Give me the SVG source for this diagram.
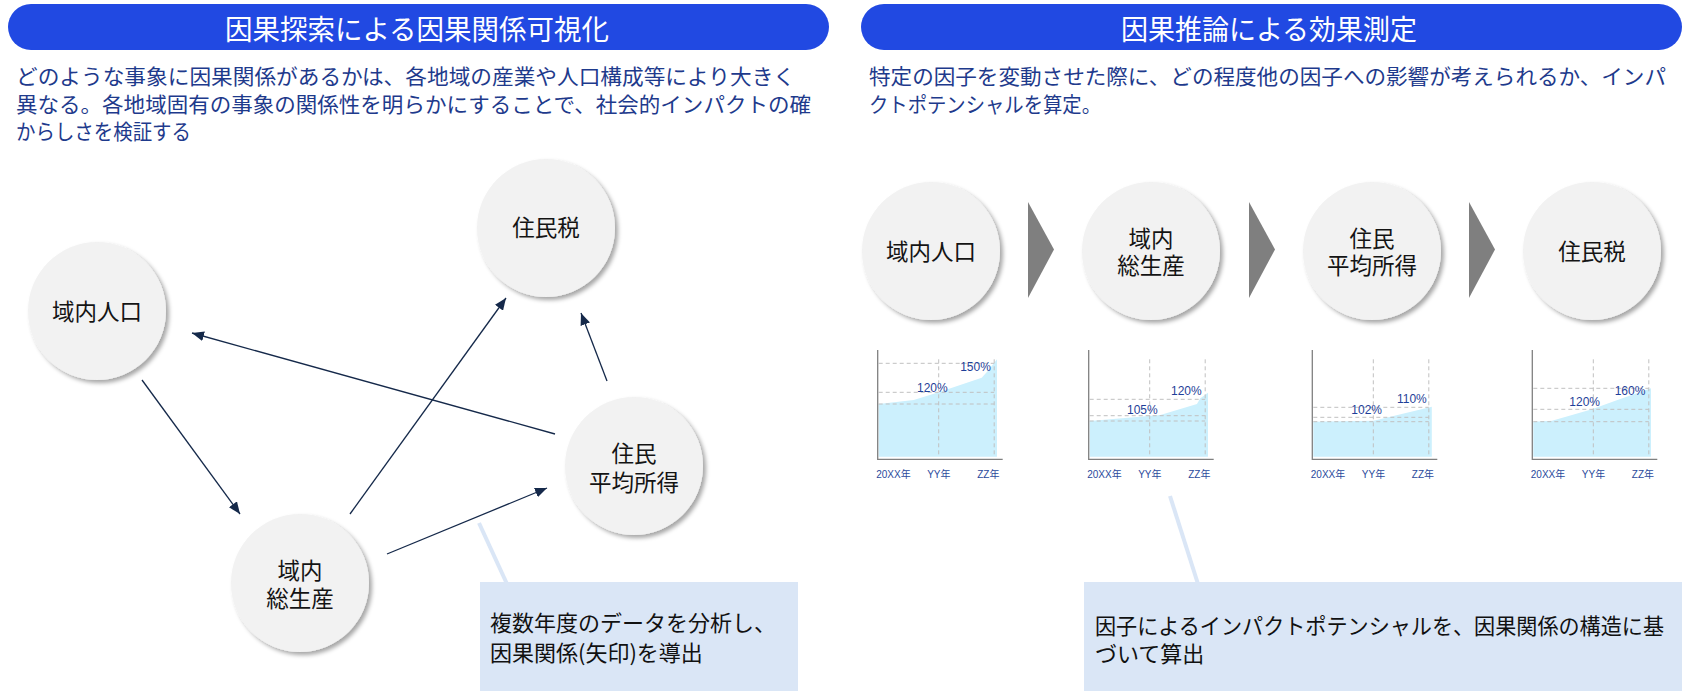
<svg xmlns="http://www.w3.org/2000/svg" width="1684" height="691" viewBox="0 0 1684 691">
<defs>
<style>
.title{font-family:"Noto Sans CJK JP",sans-serif;font-size:28px;fill:#ffffff;text-anchor:middle;dominant-baseline:central}
.desc{font-family:"Noto Sans CJK JP",sans-serif;font-size:21px;fill:#1e3a8c;dominant-baseline:central}
.node{fill:#f2f2f2;filter:url(#sh)}
.nt{font-family:"Noto Sans CJK JP",sans-serif;font-size:22.5px;fill:#141414;text-anchor:middle;dominant-baseline:central}
.edge{stroke:#15294a;stroke-width:1.3;fill:none;marker-end:url(#ah)}
.pill{fill:#2149e2}
.box{fill:#dae6f6}
.call{stroke:#dae6f6;stroke-width:4}
.bt{font-family:"Noto Sans CJK JP",sans-serif;font-size:22px;fill:#111111;dominant-baseline:central}
.chev{fill:#7f7f7f}
.axis{stroke:#808080;stroke-width:1.3;fill:none}
.grid{stroke:#c0c0c0;stroke-width:1;stroke-dasharray:4 3;fill:none}
.area{fill:#ccf0fd}
.pct{font-family:"Liberation Sans","Noto Sans CJK JP",sans-serif;font-size:12px;fill:#1f3f99;dominant-baseline:central}
.yr{font-family:"Liberation Sans","Noto Sans CJK JP",sans-serif;font-size:10px;fill:#2b4a9c;dominant-baseline:central}
</style>
<filter id="sh" x="-20%" y="-20%" width="150%" height="150%">
<feDropShadow dx="3" dy="3" stdDeviation="2.2" flood-color="#000" flood-opacity="0.35"/>
</filter>
<marker id="ah" markerUnits="userSpaceOnUse" viewBox="0 0 12 10" refX="12" refY="5" markerWidth="12" markerHeight="10" orient="auto">
<path d="M0,0 L12,5 L0,10 z" fill="#15294a"/>
</marker>
<g id="gridv">
<line class="grid" x1="61" y1="359.3" x2="61" y2="456.7"/>
<line class="grid" x1="116.5" y1="359.3" x2="116.5" y2="456.7"/>
<path class="axis" d="M0,350 V459.3 H125"/>
<text class="yr" x="-1.5" y="474.5">20XX年</text>
<text class="yr" x="49.5" y="474.5">YY年</text>
<text class="yr" x="99.5" y="474.5">ZZ年</text>
</g>
</defs>
<rect width="1684" height="691" fill="#ffffff"/>

<g id="header-left">
<rect class="pill" x="8" y="4" width="821" height="46" rx="23"/>
<text class="title" x="417" y="28" textLength="384" lengthAdjust="spacingAndGlyphs">因果探索による因果関係可視化</text>
</g>
<g id="header-right">
<rect class="pill" x="861" y="4" width="821" height="46" rx="23"/>
<text class="title" x="1269" y="28" textLength="296" lengthAdjust="spacingAndGlyphs">因果推論による効果測定</text>
</g>

<g id="desc-left">
<text class="desc" x="16" y="75" textLength="779" lengthAdjust="spacingAndGlyphs">どのような事象に因果関係があるかは、各地域の産業や人口構成等により大きく</text>
<text class="desc" x="16" y="103" textLength="795" lengthAdjust="spacingAndGlyphs">異なる。各地域固有の事象の関係性を明らかにすることで、社会的インパクトの確</text>
<text class="desc" x="16" y="130" textLength="175" lengthAdjust="spacingAndGlyphs">からしさを検証する</text>
</g>
<g id="desc-right">
<text class="desc" x="869" y="75" textLength="797" lengthAdjust="spacingAndGlyphs">特定の因子を変動させた際に、どの程度他の因子への影響が考えられるか、インパ</text>
<text class="desc" x="869" y="103" textLength="232" lengthAdjust="spacingAndGlyphs">クトポテンシャルを算定。</text>
</g>

<g id="connectors">
<line class="edge" x1="142" y1="380" x2="240" y2="514"/>
<line class="edge" x1="350" y1="514" x2="506" y2="298"/>
<line class="edge" x1="607" y1="381" x2="581" y2="313"/>
<line class="edge" x1="555" y1="434" x2="192" y2="333"/>
<line class="edge" x1="387" y1="554" x2="547" y2="488"/>
<line class="call" x1="479" y1="523" x2="507" y2="584"/>
<line class="call" x1="1170" y1="496" x2="1198" y2="584"/>
</g>

<g id="node-jinko">
<circle class="node" cx="97" cy="311" r="69"/>
<text class="nt" x="97" y="310">域内人口</text>
</g>
<g id="node-juminzei">
<circle class="node" cx="546" cy="228" r="69"/>
<text class="nt" x="546" y="226">住民税</text>
</g>
<g id="node-shotoku">
<circle class="node" cx="634" cy="466" r="69"/>
<text class="nt"><tspan x="634" y="452">住民</tspan><tspan x="634" y="481">平均所得</tspan></text>
</g>
<g id="node-gdp">
<circle class="node" cx="300" cy="583" r="69"/>
<text class="nt"><tspan x="300" y="569">域内</tspan><tspan x="300" y="597">総生産</tspan></text>
</g>

<g id="callout-left">
<rect class="box" x="480" y="582" width="318" height="109"/>
<text class="bt"><tspan x="490" y="621">複数年度のデータを分析し、</tspan><tspan x="490" y="651">因果関係(矢印)を導出</tspan></text>
</g>

<g id="flow-jinko">
<circle class="node" cx="931" cy="251" r="69"/>
<text class="nt" x="931" y="250">域内人口</text>
</g>
<g id="flow-gdp">
<circle class="node" cx="1151" cy="251" r="69"/>
<text class="nt"><tspan x="1151" y="237">域内</tspan><tspan x="1151" y="264">総生産</tspan></text>
</g>
<g id="flow-shotoku">
<circle class="node" cx="1372" cy="251" r="69"/>
<text class="nt"><tspan x="1372" y="237">住民</tspan><tspan x="1372" y="264">平均所得</tspan></text>
</g>
<g id="flow-juminzei">
<circle class="node" cx="1592" cy="251" r="69"/>
<text class="nt" x="1592" y="250">住民税</text>
</g>
<g id="chevrons">
<polygon class="chev" points="1028,202 1054,249.5 1028,298"/>
<polygon class="chev" points="1249,202 1275,249.5 1249,298"/>
<polygon class="chev" points="1469,202 1495,249.5 1469,298"/>
</g>

<g id="chart-1" transform="translate(877.7,0)">
<polygon class="area" points="1,404 36,400 61,392.3 104,377.7 111,370 119.3,359.3 119.3,456.7 1,456.7"/>
<line class="grid" x1="1" y1="363.3" x2="116.5" y2="363.3"/>
<line class="grid" x1="1" y1="392.3" x2="116.5" y2="392.3"/>
<line class="grid" x1="1" y1="404" x2="116.5" y2="404"/>
<use href="#gridv"/>
<text class="pct" x="82.5" y="367">150%</text>
<text class="pct" x="39.3" y="388">120%</text>
</g>
<g id="chart-2" transform="translate(1088.7,0)">
<polygon class="area" points="1,421 71.6,415 108.3,404 111.6,398.3 119.3,392.7 119.3,456.7 1,456.7"/>
<line class="grid" x1="1" y1="399.3" x2="116.5" y2="399.3"/>
<line class="grid" x1="1" y1="415.7" x2="116.5" y2="415.7"/>
<line class="grid" x1="1" y1="421" x2="116.5" y2="421"/>
<use href="#gridv"/>
<text class="pct" x="82.3" y="390.5">120%</text>
<text class="pct" x="38.3" y="410">105%</text>
</g>
<g id="chart-3" transform="translate(1312.3,0)">
<polygon class="area" points="1,421.7 61.4,420.7 119.5,406.7 119.5,456.7 1,456.7"/>
<line class="grid" x1="1" y1="407.3" x2="116.5" y2="407.3"/>
<line class="grid" x1="1" y1="417.3" x2="116.5" y2="417.3"/>
<line class="grid" x1="1" y1="421.7" x2="116.5" y2="421.7"/>
<use href="#gridv"/>
<text class="pct" x="84.7" y="398.5">110%</text>
<text class="pct" x="39" y="410">102%</text>
</g>
<g id="chart-4" transform="translate(1532.3,0)">
<polygon class="area" points="1,421.7 19.7,420.7 59.7,409.3 83,400.7 118.7,388.3 118.7,456.7 1,456.7"/>
<line class="grid" x1="1" y1="388.3" x2="116.5" y2="388.3"/>
<line class="grid" x1="1" y1="409.3" x2="116.5" y2="409.3"/>
<line class="grid" x1="1" y1="421.7" x2="116.5" y2="421.7"/>
<use href="#gridv"/>
<text class="pct" x="82.4" y="390.5">160%</text>
<text class="pct" x="37" y="402">120%</text>
</g>

<g id="callout-right">
<rect class="box" x="1084" y="582" width="598" height="109"/>
<text class="bt"><tspan x="1095" y="624" textLength="569" lengthAdjust="spacingAndGlyphs">因子によるインパクトポテンシャルを、因果関係の構造に基</tspan><tspan x="1095" y="652">づいて算出</tspan></text>
</g>
</svg>
